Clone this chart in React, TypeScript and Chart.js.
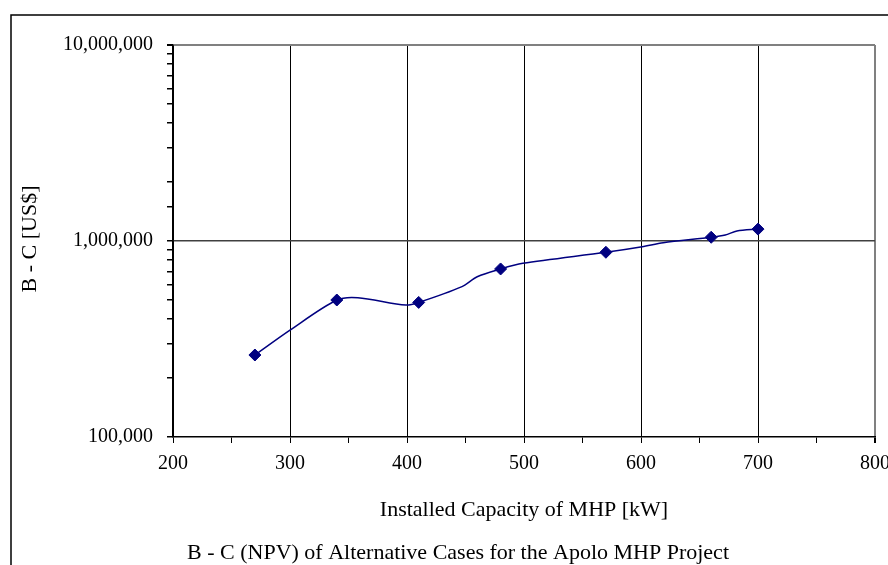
import React, { useEffect, useRef } from "react";
import { Chart, registerables } from "chart.js";

Chart.register(...registerables);

// Marker points (kW, US$)
const capacityKW = [270, 340, 410, 480, 570, 660, 700];
const npvUSD = [262000, 500000, 486000, 720000, 876000, 1045000, 1150000];

// Smoothed curve points (kW, US$)
const curveKW = [270, 300, 340, 358, 399, 410, 447, 460, 480, 499, 570, 601, 619, 660, 672, 682, 700];
const curveUSD = [262000, 351000, 500000, 514000, 471000, 486000, 585000, 657000, 720000, 769000, 876000, 935000, 980000, 1045000, 1073000, 1125000, 1150000];

const xTitle = "Installed Capacity of MHP [kW]";
const yTitle = "B - C [US$]";
const caption = "B - C (NPV) of Alternative Cases for the Apolo MHP Project";

const FONT = '"Liberation Serif", "Times New Roman", serif';

export default function App() {
  const ref = useRef<HTMLCanvasElement | null>(null);

  useEffect(() => {
    const canvas = ref.current!;
    const decor = {
      id: "decor",
      afterDraw(chart: any) {
        const c = chart.ctx;
        const a = chart.chartArea;
        c.save();
        c.strokeStyle = "#000";
        c.lineWidth = 1.5;
        c.strokeRect(11, 15, 1000, 1000);
        c.fillStyle = "#000";
        c.font = `22px ${FONT}`;
        c.textAlign = "center";
        c.textBaseline = "middle";
        c.fillText(xTitle, (a.left + a.right) / 2, 510);
        c.fillText(caption, 458, 553);
        c.translate(30, 239);
        c.rotate(-Math.PI / 2);
        c.fillText(yTitle, 0, 0);
        c.restore();
      },
    };

    const chart = new Chart(canvas, {
      type: "scatter",
      data: {
        datasets: [
          {
            data: capacityKW.map((x, i) => ({ x, y: npvUSD[i] })),
            showLine: false,
            pointStyle: "rectRot",
            pointRadius: 6,
            pointBackgroundColor: "#000080",
            pointBorderColor: "#000080",
            order: 0,
          },
          {
            data: curveKW.map((x, i) => ({ x, y: curveUSD[i] })),
            showLine: true,
            borderColor: "#000080",
            borderWidth: 1.5,
            pointRadius: 0,
            tension: 0.3,
            order: 1,
          },
        ],
      },
      options: {
        responsive: false,
        animation: false,
        devicePixelRatio: 1,
        layout: { padding: { left: 0, top: 45, right: 13, bottom: 0 } },
        plugins: { legend: { display: false }, tooltip: { enabled: false } },
        scales: {
          x: {
            type: "linear",
            min: 200,
            max: 800,
            afterFit(s: any) {
              s.height = 128;
              s.paddingLeft = 0;
              s.paddingRight = 0;
            },
            ticks: {
              stepSize: 50,
              autoSkip: false,
              maxRotation: 0,
              padding: 9,
              color: "#000",
              font: { family: FONT, size: 20 },
              callback: (v: any) => (v % 100 === 0 ? String(v) : ""),
            },
            grid: {
              color: (ctx: any) => {
                const v = ctx.tick?.value;
                if (v === 800) return "#808080";
                return v % 100 === 0 ? "#000" : "rgba(0,0,0,0)";
              },
              lineWidth: (ctx: any) => (ctx.tick?.value === 800 ? 2 : 1),
              tickColor: "#000",
              tickLength: 6,
            },
            border: { color: "#000", width: 1.5 },
          },
          y: {
            type: "logarithmic",
            min: 100000,
            max: 10000000,
            afterFit(s: any) {
              s.width = 173;
              s.paddingTop = 0;
              s.paddingBottom = 0;
            },
            ticks: {
              autoSkip: false,
              padding: 14,
              color: "#000",
              font: { family: FONT, size: 20 },
              callback: (v: any) => {
                const l = Math.log10(v);
                return Math.abs(l - Math.round(l)) < 1e-9 ? Number(v).toLocaleString("en-US") : "";
              },
            },
            grid: {
              color: (ctx: any) => {
                const v = ctx.tick?.value;
                if (v === 10000000) return "#808080";
                if (v === 1000000) return "#404040";
                return "rgba(0,0,0,0)";
              },
              lineWidth: (ctx: any) => (ctx.tick?.value === 10000000 ? 2 : 1.5),
              tickColor: "#000",
              tickLength: 6,
            },
            border: { color: "#000", width: 1.5 },
          },
        },
      },
      plugins: [decor],
    });
    return () => chart.destroy();
  }, []);

  return (
    <canvas
      ref={ref}
      width={888}
      height={565}
      style={{ position: "absolute", left: 0, top: 0, width: 888, height: 565, background: "#fff" }}
    />
  );
}
